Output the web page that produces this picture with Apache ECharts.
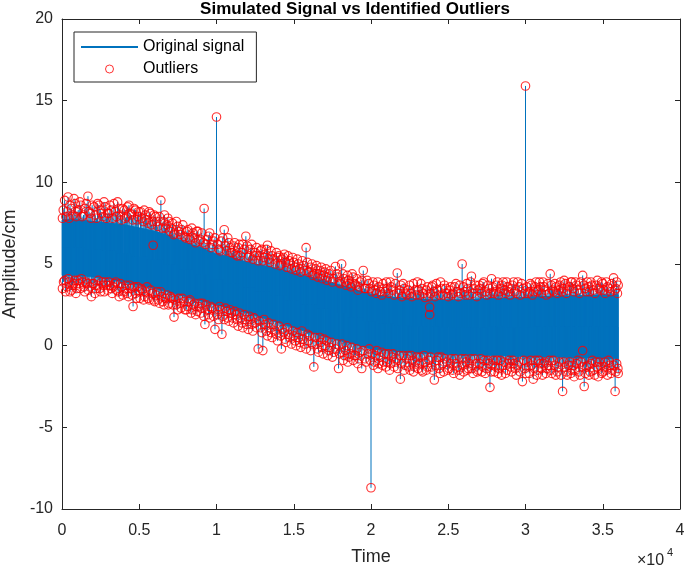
<!DOCTYPE html>
<html>
<head>
<meta charset="utf-8">
<script src="https://cdn.jsdelivr.net/npm/echarts@6/dist/echarts.min.js"></script>
<style>html,body{margin:0;padding:0;background:#fff;}#c{width:685px;height:569px;}</style>
</head>
<body>
<div id="c"></div>
<script>
// ---- data ----
const envTime = [0,1000,2000,3000,4000,5000,6000,7000,8000,9000,10000,11000,12000,13000,14000,15000,16000,17000,18000,19000,20000,21000,22000,23000,24000,25000,26000,27000,28000,29000,30000,31000,32000,33000,34000,35000,36000];
const envUpper = [7.7,7.7,7.6,7.5,7.4,7.2,7.0,6.7,6.3,6.0,5.6,5.4,5.1,4.9,4.7,4.45,4.2,3.95,3.7,3.4,3.15,3.0,2.9,2.85,2.8,2.8,2.8,2.85,2.9,2.9,2.95,3.0,3.0,3.05,3.05,3.1,3.1];
const envLower = [4.3,4.3,4.2,4.1,3.9,3.7,3.5,3.25,3.0,2.75,2.5,2.25,2.0,1.7,1.4,1.1,0.8,0.55,0.3,0.05,-0.2,-0.3,-0.4,-0.45,-0.5,-0.55,-0.6,-0.6,-0.6,-0.65,-0.7,-0.7,-0.7,-0.75,-0.75,-0.8,-0.8];

const upperOutliers = [
[80,8.3],[250,7.9],[390,9.1],[520,8.6],[700,8.0],[850,8.7],[980,8.2],
[1150,8.8],[1300,7.9],[1480,8.4],[1680,9.15],[1820,8.1],[1950,8.6],
[2150,8.0],[2300,8.7],[2480,8.3],[2650,7.9],[2800,8.5],[2950,8.1],
[3100,8.6],[3280,7.8],[3450,8.2],[3600,8.8],[3780,8.0],[3920,8.4],
[4100,7.8],[4250,8.5],[4400,8.1],[4580,7.7],[4750,8.3],[4900,7.9],
[5080,8.2],[5250,7.6],[5400,8.0],[5560,7.5],[5720,8.1],[5880,7.6],
[6050,7.9],[6200,7.3],[6400,8.9],[6550,7.6],[6700,7.2],[6850,7.8],
[7000,7.0],[7150,7.5],[7300,6.9],[7480,7.3],[7650,6.8],[7820,7.4],
[8000,6.6],[8150,7.1],[8300,6.5],[8480,6.9],[8650,6.3],[8800,7.0],
[8950,6.5],[9200,8.4],[9300,6.2],[9480,6.7],[9650,6.0],[9820,6.4],
[10000,14.0],
[10150,5.9],[10300,6.4],[10500,7.1],[10650,5.8],[10800,6.3],[10950,5.7],
[11100,6.1],[11250,5.6],[11400,6.0],[11550,5.5],[11700,6.2],[11900,6.7],
[12050,5.4],[12200,5.9],[12350,5.3],[12500,5.7],[12700,5.2],[12850,5.8],
[13000,5.2],[13150,5.6],[13300,6.15],[13450,5.1],[13600,5.5],[13800,5.0],[13950,5.4],
[14100,4.9],[14250,5.3],[14400,5.6],[14550,4.8],[14700,5.2],[14850,4.7],
[15000,5.1],[15150,4.6],[15300,5.0],[15450,4.5],[15650,4.9],[15800,6.0],[15950,4.5],
[16100,4.8],[16250,4.3],[16400,4.7],[16550,4.2],[16700,4.6],[16850,4.1],
[17000,4.5],[17150,4.0],[17300,4.4],[17500,3.9],[17700,4.85],[17850,4.2],
[18000,3.8],[18100,5.0],[18250,4.1],[18400,3.7],[18550,4.0],[18700,3.6],[18850,4.2],
[19000,3.7],[19150,3.4],[19300,3.9],[19500,4.6],[19650,3.5],[19850,3.8],
[20050,3.3],[20200,3.7],[20350,3.2],[20500,3.6],[20700,3.1],[20850,3.5],
[21000,3.9],[21150,3.2],[21300,3.6],[21500,3.1],[21700,4.45],[21850,3.4],
[22000,3.0],[22150,3.5],[22300,3.1],[22500,3.7],[22650,3.0],[22850,3.4],
[23000,3.9],[23150,3.1],[23300,3.5],[23500,2.95],[23650,3.6],[23850,3.2],
[24000,3.7],[24150,3.0],[24300,3.4],[24500,3.9],[24650,3.1],[24850,3.5],
[25000,3.0],[25150,3.6],[25300,3.2],[25500,3.8],[25650,3.0],[25900,5.0],
[26050,3.3],[26200,3.8],[26350,3.1],[26500,4.25],[26650,3.5],[26850,3.0],
[27000,3.7],[27150,3.2],[27300,3.9],[27500,3.1],[27650,3.5],[27800,4.1],[27950,3.2],
[28100,3.7],[28250,3.1],[28400,3.5],[28550,3.9],[28700,3.2],[28850,3.6],
[29000,3.1],[29150,3.7],[29300,3.3],[29500,3.9],[29650,3.1],[29850,3.5],
[30000,15.9],
[30150,3.2],[30300,3.8],[30450,3.1],[30600,3.6],[30750,3.3],[30900,3.9],
[31050,3.2],[31200,3.6],[31350,3.1],[31600,4.4],[31750,3.4],[31900,3.8],
[32050,3.2],[32200,3.7],[32350,3.3],[32500,4.0],[32650,3.2],[32850,3.6],
[33000,3.9],[33150,3.3],[33300,3.7],[33500,3.2],[33700,4.3],[33850,3.5],
[34000,3.9],[34150,3.3],[34300,3.7],[34500,3.2],[34650,4.0],[34850,3.4],
[35000,3.8],[35150,3.2],[35300,3.6],[35500,3.3],[35700,4.15],[35850,3.5],[35950,3.2],[36000,3.7]
];

const upperOutliersDense = [
[30,7.8],[170,8.9],[320,8.2],[460,7.8],[610,8.4],[780,9.0],[920,7.9],
[1050,8.3],[1220,8.6],[1390,8.0],[1570,8.7],[1750,8.2],[1880,7.8],
[2080,8.5],[2230,7.8],[2400,8.6],[2560,8.1],[2720,8.8],[2880,7.8],
[3030,8.1],[3190,8.3],[3360,8.7],[3530,7.9],[3690,8.4],[3850,7.7],
[4030,8.3],[4180,7.9],[4330,8.6],[4500,8.0],[4660,8.4],[4830,7.7],[4960,8.2],
[5160,7.8],[5320,8.3],[5480,7.7],[5640,8.2],[5800,7.4],[5960,8.0],
[6120,7.6],[6300,7.9],[6480,7.2],[6630,8.0],[6780,7.4],[6930,7.6],
[7080,7.2],[7230,6.8],[7400,7.6],[7560,7.0],[7740,7.1],[7900,6.7],
[8080,7.0],[8230,6.6],[8400,7.2],[8560,6.6],[8720,7.0],[8880,6.4],
[9050,6.9],[9130,6.3],[9400,6.5],[9560,6.9],[9730,6.2],[9900,6.6],
[10080,6.2],[10230,5.8],[10400,6.6],[10580,6.1],[10730,6.6],[10880,6.0],
[11030,5.7],[11180,6.3],[11330,5.5],[11480,6.2],[11630,5.7],[11800,5.9],
[11980,6.1],[12130,5.5],[12280,6.2],[12430,5.5],[12600,6.0],[12780,5.5],[12930,5.9],
[13080,5.4],[13230,5.9],[13380,5.3],[13530,5.8],[13700,5.3],[13880,5.7],
[14030,5.5],[14180,5.0],[14330,5.4],[14480,5.1],[14630,5.5],[14780,5.0],[14930,5.4],
[15080,4.8],[15230,5.3],[15380,4.7],[15550,5.2],[15720,4.6],[15880,5.1],
[16030,4.5],[16180,5.0],[16330,4.4],[16480,4.9],[16630,4.4],[16780,4.8],[16930,4.3],
[17080,4.7],[17230,4.2],[17400,4.6],[17600,4.1],[17780,4.4],[17930,3.9],
[18180,4.4],[18330,3.9],[18480,4.3],[18630,3.8],[18780,4.4],[18930,3.8],
[19080,4.1],[19230,3.6],[19400,4.0],[19580,3.5],[19750,4.0],[19930,3.5],
[20120,3.9],[20280,3.4],[20430,3.9],[20600,3.3],[20780,3.8],[20930,3.3],
[21080,3.5],[21230,3.9],[21400,3.4],[21580,3.8],[21780,3.2],[21930,3.7],
[22080,3.8],[22230,3.2],[22400,3.4],[22580,3.2],[22750,3.8],[22930,3.1],
[23080,3.4],[23230,3.8],[23400,3.2],[23580,3.4],[23750,3.0],[23930,3.6],
[24080,3.3],[24230,3.8],[24400,3.1],[24580,3.5],[24750,3.7],[24930,3.2],
[25080,3.4],[25230,3.1],[25400,3.6],[25580,3.3],[25750,3.7],[25820,3.2],[25980,3.6],
[26130,3.1],[26280,3.5],[26430,3.9],[26580,3.2],[26750,3.7],[26930,3.4],
[27080,3.5],[27230,3.8],[27400,3.3],[27580,3.7],[27730,3.2],[27880,3.6],
[28030,3.3],[28180,3.9],[28330,3.3],[28480,3.7],[28630,3.4],[28780,3.9],[28930,3.3],
[29080,3.5],[29230,3.9],[29400,3.2],[29580,3.6],[29750,3.8],[29930,3.2],
[30080,3.6],[30230,3.3],[30380,3.7],[30530,3.3],[30680,3.9],[30830,3.4],[30980,3.6],
[31130,3.9],[31280,3.4],[31450,3.8],[31530,3.2],[31680,3.7],[31830,3.3],[31980,3.6],
[32130,3.4],[32280,3.9],[32430,3.5],[32580,3.8],[32730,3.4],[32930,3.9],
[33080,3.5],[33230,3.9],[33400,3.4],[33580,3.9],[33780,3.7],[33930,3.3],
[34080,3.6],[34230,3.9],[34400,3.4],[34580,3.7],[34750,3.5],[34930,3.9],
[35080,3.4],[35230,3.9],[35400,3.5],[35580,3.8],[35780,3.4],[35900,3.9]
];

const lowerOutliers = [
[100,3.9],[230,3.3],[400,4.1],[520,3.3],[680,3.7],[820,4.0],[950,3.5],
[1100,3.8],[1250,4.1],[1400,3.6],[1550,3.9],[1700,3.4],[1900,3.0],
[2050,3.8],[2200,3.5],[2350,4.0],[2500,3.3],[2650,3.7],[2800,3.9],[2950,3.4],
[3100,3.7],[3250,3.2],[3400,3.8],[3550,3.4],[3700,3.0],[3850,3.6],
[4000,3.3],[4150,3.7],[4300,3.0],[4450,3.5],[4600,2.4],[4750,3.2],[4900,3.6],
[5050,2.9],[5200,3.4],[5350,3.0],[5500,3.6],[5650,2.8],[5850,3.2],
[6000,2.7],[6150,3.3],[6300,2.6],[6450,3.0],[6600,2.5],[6800,3.1],
[6950,2.6],[7100,2.9],[7250,1.75],[7400,2.5],[7550,2.9],[7700,2.3],[7900,2.7],
[8050,2.2],[8200,2.7],[8350,2.0],[8500,2.5],[8650,1.9],[8850,2.4],
[9000,2.0],[9100,2.6],[9250,1.3],[9400,2.2],[9550,1.7],[9700,2.3],[9900,1.0],
[10050,1.9],[10200,2.4],[10350,0.7],[10500,1.6],[10650,2.1],[10800,1.5],[10950,2.0],
[11100,1.4],[11250,1.9],[11400,1.2],[11550,1.7],[11700,1.1],[11900,1.6],
[12050,1.0],[12200,1.6],[12350,0.9],[12500,1.4],[12700,-0.2],[12850,1.1],
[13000,-0.3],[13150,1.3],[13300,0.6],[13450,1.1],[13600,0.5],[13800,0.9],
[13950,0.3],[14200,-0.2],[14350,0.8],[14500,0.2],[14650,0.7],[14850,0.1],
[15000,0.6],[15150,0.0],[15300,0.5],[15450,-0.1],[15600,0.4],[15800,-0.2],[15950,0.3],
[16100,-0.3],[16300,-1.3],[16450,0.1],[16600,-0.4],[16750,0.2],[16900,-0.5],
[17050,0.0],[17200,-0.6],[17350,-0.1],[17500,-0.7],[17700,-0.2],[17900,-1.4],
[18050,-0.4],[18200,-0.9],[18350,-0.3],[18500,-1.0],[18650,-0.5],[18850,-0.9],
[19000,-0.6],[19150,-1.1],[19300,-0.4],[19400,-1.4],[19600,-0.8],[19800,-0.5],
[20000,-8.7],
[20150,-1.2],[20300,-0.6],[20450,-1.4],[20600,-0.7],[20750,-1.2],[20900,-0.5],
[21050,-1.0],[21200,-1.5],[21350,-0.7],[21500,-1.3],[21650,-0.8],[21900,-2.05],[22000,-1.1],
[22150,-1.5],[22300,-0.8],[22450,-1.3],[22600,-0.6],[22750,-1.6],[22900,-1.0],
[23050,-1.4],[23200,-0.7],[23350,-1.6],[23500,-1.0],[23650,-1.3],[23850,-0.7],
[24000,-1.5],[24100,-2.1],[24250,-0.9],[24400,-1.4],[24550,-0.7],[24700,-1.6],[24900,-1.0],
[25050,-1.4],[25200,-0.8],[25350,-1.7],[25500,-1.1],[25650,-1.5],[25850,-0.8],
[26000,-1.6],[26150,-1.0],[26300,-1.4],[26450,-0.8],[26600,-1.7],[26800,-1.1],[26950,-1.5],
[27100,-0.8],[27250,-1.3],[27400,-1.7],[27550,-0.9],[27700,-2.55],[27850,-1.2],
[28000,-1.6],[28150,-0.9],[28300,-1.4],[28450,-1.8],[28600,-1.0],[28800,-1.5],
[28950,-0.9],[29100,-1.6],[29250,-1.1],[29400,-1.8],[29550,-1.0],[29800,-2.2],[29950,-1.4],
[30100,-1.0],[30250,-1.7],[30400,-1.2],[30500,-2.05],[30650,-0.9],[30800,-1.5],[30950,-1.1],
[31100,-1.8],[31250,-1.0],[31400,-1.4],[31550,-0.9],[31700,-1.7],[31900,-1.2],
[32050,-1.6],[32200,-1.0],[32400,-2.8],[32550,-1.3],[32700,-1.8],[32850,-1.0],
[33000,-1.5],[33150,-1.9],[33300,-1.1],[33450,-1.6],[33600,-1.0],[33800,-2.5],[33950,-1.3],
[34100,-1.8],[34250,-1.1],[34400,-1.5],[34550,-1.0],[34700,-1.9],[34850,-1.3],
[35000,-1.6],[35150,-1.0],[35300,-1.8],[35450,-1.2],[35600,-1.5],[35800,-2.8],[35900,-1.1],[36000,-1.7]
];

const lowerOutliersDense = [
[30,3.5],[170,4.0],[320,3.6],[460,3.9],[610,3.4],[760,3.8],[900,3.2],
[1030,4.0],[1180,3.5],[1330,3.9],[1480,3.3],[1630,3.8],[1800,3.6],[1960,3.8],
[2130,3.2],[2280,3.7],[2430,3.5],[2580,3.9],[2730,3.3],[2880,3.7],
[3030,3.9],[3180,3.5],[3330,3.6],[3480,3.9],[3630,3.3],[3780,3.8],[3930,3.1],
[4080,3.5],[4230,3.2],[4380,3.7],[4530,3.1],[4680,3.6],[4830,2.9],[4960,3.3],
[5130,3.5],[5280,2.8],[5430,3.3],[5580,2.9],[5750,3.4],[5930,2.8],
[6080,3.1],[6230,2.8],[6380,3.3],[6530,2.7],[6700,2.9],[6880,2.5],
[7030,3.0],[7180,2.5],[7330,2.8],[7480,2.2],[7630,2.6],[7800,2.9],[7960,2.2],
[8130,2.4],[8280,2.8],[8430,2.2],[8580,2.6],[8750,2.1],[8930,2.6],
[9050,2.3],[9180,1.8],[9330,2.5],[9480,1.9],[9630,2.4],[9800,1.8],[9960,2.2],
[10130,1.6],[10280,2.2],[10430,1.8],[10580,2.3],[10730,1.7],[10880,2.2],
[11030,1.7],[11180,2.1],[11330,1.6],[11480,2.0],[11630,1.4],[11800,1.9],[11960,1.3],
[12130,1.8],[12280,1.3],[12430,1.7],[12600,1.1],[12780,1.5],[12930,0.8],
[13080,1.6],[13230,0.9],[13380,1.4],[13530,0.8],[13700,1.3],[13880,0.7],
[14050,1.2],[14130,0.6],[14280,1.0],[14430,0.4],[14580,1.1],[14750,0.5],[14930,0.9],
[15080,0.3],[15230,0.8],[15380,0.2],[15530,0.9],[15700,0.1],[15880,0.7],
[16030,0.6],[16180,0.1],[16380,0.5],[16530,-0.2],[16680,0.5],[16830,-0.1],[16960,0.4],
[17130,0.3],[17280,-0.3],[17430,0.2],[17600,-0.4],[17800,0.1],[17960,-0.5],
[18130,0.1],[18280,-0.6],[18430,0.0],[18580,-0.7],[18750,-0.1],[18930,-0.6],
[19080,-0.2],[19230,-0.8],[19480,-0.3],[19680,-1.0],[19880,-0.2],[19950,-0.9],
[20080,-0.5],[20230,-1.0],[20380,-0.3],[20530,-1.1],[20680,-0.4],[20830,-1.0],[20960,-1.3],
[21130,-0.5],[21280,-1.1],[21430,-0.5],[21580,-1.0],[21730,-1.4],[21830,-0.6],
[22080,-0.6],[22230,-1.2],[22380,-0.6],[22530,-1.5],[22680,-0.9],[22830,-1.3],[22960,-0.7],
[23130,-1.1],[23280,-1.5],[23430,-0.6],[23580,-1.5],[23750,-0.9],[23930,-1.3],
[24180,-1.2],[24330,-0.7],[24480,-1.7],[24630,-1.1],[24780,-0.8],[24960,-1.5],
[25130,-1.1],[25280,-1.5],[25430,-0.8],[25580,-1.3],[25750,-1.8],[25930,-1.2],
[26080,-0.8],[26230,-1.5],[26380,-1.1],[26530,-1.4],[26700,-0.8],[26880,-1.6],
[27030,-1.1],[27180,-1.6],[27330,-0.9],[27480,-1.4],[27630,-1.1],[27780,-1.6],[27930,-0.9],
[28080,-1.3],[28230,-1.7],[28380,-0.9],[28530,-1.2],[28700,-1.7],[28880,-1.1],
[29030,-1.3],[29180,-0.9],[29330,-1.4],[29480,-1.2],[29650,-1.6],[29880,-0.9],
[30030,-1.7],[30180,-1.3],[30330,-0.9],[30580,-1.4],[30730,-1.8],[30880,-0.9],
[31030,-1.4],[31180,-1.1],[31330,-1.7],[31480,-1.2],[31630,-1.5],[31800,-0.9],[31960,-1.8],
[32130,-1.3],[32300,-1.8],[32480,-1.0],[32630,-1.6],[32780,-1.2],[32930,-1.7],
[33080,-1.2],[33230,-1.5],[33380,-0.9],[33530,-1.8],[33700,-1.3],[33880,-1.7],
[34030,-1.2],[34180,-1.6],[34330,-0.9],[34480,-1.8],[34630,-1.3],[34780,-1.0],[34930,-1.7],
[35080,-1.3],[35230,-1.5],[35380,-0.9],[35530,-1.7],[35700,-1.2],[35850,-1.6],[35980,-1.4]
];

const innerOutliers = [[5900,6.15],[23800,2.35],[23800,1.9],[33700,-0.3]];

const xTicks = [0,5000,10000,15000,20000,25000,30000,35000,40000];
const yTicks = [-10,-5,0,5,10,15,20];

// ---- build library inputs ----
const FONT = '"Liberation Sans", Arial, Helvetica, sans-serif';
const AX = '#262626';
const BLUE = '#0072BD';
const bandRows = envTime.map((t,i)=>[t, envLower[i], envUpper[i]]);
const upperLine = envTime.map((t,i)=>[t, envUpper[i]]);
const allOutliers = upperOutliers.concat(upperOutliersDense, lowerOutliers, lowerOutliersDense, innerOutliers);
const spikeRows = allOutliers.map(p=>{
  const i = Math.min(envTime.length-1, Math.max(0, Math.round(p[0]/1000)));
  return [p[0], p[1], (envUpper[i]+envLower[i])/2];
});

function axisCommon(){
  return {
    axisLine:{show:true, onZero:false, lineStyle:{color:AX, width:1}},
    axisTick:{show:true, inside:true, length:5, lineStyle:{color:AX, width:1}},
    splitLine:{show:false}
  };
}

const chart = echarts.init(document.getElementById('c'), null, {renderer:'canvas'});
chart.setOption({
  animation:false,
  backgroundColor:'#fff',
  grid:{left:62, right:5, top:19, bottom:60, containLabel:false, outerBoundsMode:'none'},
  xAxis:[
    Object.assign({type:'value', min:xTicks[0], max:xTicks[xTicks.length-1], interval:5000, position:'bottom',
      name:'Time', nameLocation:'middle', nameGap:39,
      nameTextStyle:{fontSize:18, color:AX, fontFamily:FONT},
      axisLabel:{fontSize:16, color:AX, fontFamily:FONT, margin:14, formatter:v=>String(v/10000)}}, axisCommon()),
    Object.assign({type:'value', min:xTicks[0], max:xTicks[xTicks.length-1], interval:5000, position:'top',
      axisLabel:{show:false}}, axisCommon())
  ],
  yAxis:[
    Object.assign({type:'value', min:yTicks[0], max:yTicks[yTicks.length-1], interval:5, position:'left',
      name:'Amplitude/cm', nameLocation:'middle', nameGap:36, nameRotate:90,
      nameTextStyle:{fontSize:18, color:AX, fontFamily:FONT},
      axisLabel:{fontSize:16, color:AX, fontFamily:FONT, margin:9}}, axisCommon()),
    Object.assign({type:'value', min:yTicks[0], max:yTicks[yTicks.length-1], interval:5, position:'right',
      axisLabel:{show:false}}, axisCommon())
  ],
  legend:{
    orient:'vertical', left:74, top:32, padding:[6,12,4,6],
    borderColor:AX, borderWidth:1, backgroundColor:'#fff',
    itemWidth:57, itemHeight:8, itemGap:4,
    textStyle:{fontSize:16, color:'#000', fontFamily:FONT, lineHeight:18},
    selectedMode:false,
    data:[
      {name:'Original signal', itemStyle:{opacity:0}},
      {name:'Outliers', icon:'circle', itemStyle:{color:'rgba(0,0,0,0)', borderColor:'#ff0000', borderWidth:1}}
    ]
  },
  graphic:[
    {type:'text', x:355, y:1, style:{text:'Simulated Signal vs Identified Outliers', font:'bold 17px '+FONT, fill:'#000', textAlign:'center', textVerticalAlign:'top'}},
    {type:'text', x:637, y:553, style:{text:'×10', font:'16px '+FONT, fill:AX, textAlign:'left', textVerticalAlign:'top'}},
    {type:'text', x:667, y:547, style:{text:'4', font:'11px '+FONT, fill:AX, textAlign:'left', textVerticalAlign:'top'}}
  ],
  series:[
    {type:'custom', name:'band', data:bandRows, silent:true, z:1, encode:{x:0, y:[1,2]},
      renderItem:(params, api)=>{
        const i = params.dataIndex;
        if (i >= bandRows.length-1) return null;
        const a = bandRows[i], b = bandRows[i+1];
        const pts = [api.coord([a[0],a[1]]), api.coord([b[0],b[1]]), api.coord([b[0],b[2]]), api.coord([a[0],a[2]])];
        return {type:'polygon', shape:{points:pts}, style:{fill:BLUE, stroke:BLUE, lineWidth:0.8}};
      }},
    {type:'line', name:'Original signal', data:upperLine, symbol:'none', showSymbol:false,
      lineStyle:{width:1, color:BLUE}, itemStyle:{color:BLUE}, silent:true, z:2},
    {type:'custom', name:'spikes', data:spikeRows, silent:true, z:3, encode:{x:0, y:[1,2]},
      renderItem:(params, api)=>{
        const a = api.coord([api.value(0), api.value(1)]);
        const b = api.coord([api.value(0), api.value(2)]);
        return {type:'line', shape:{x1:a[0], y1:a[1], x2:b[0], y2:b[1]}, style:{stroke:BLUE, lineWidth:1}};
      }},
    {type:'scatter', name:'Outliers', data:allOutliers, symbol:'circle', symbolSize:8.5,
      itemStyle:{color:'rgba(0,0,0,0)', borderColor:'#ff0000', borderWidth:1.15}, silent:true, z:4}
  ]
});
</script>
</body>
</html>
